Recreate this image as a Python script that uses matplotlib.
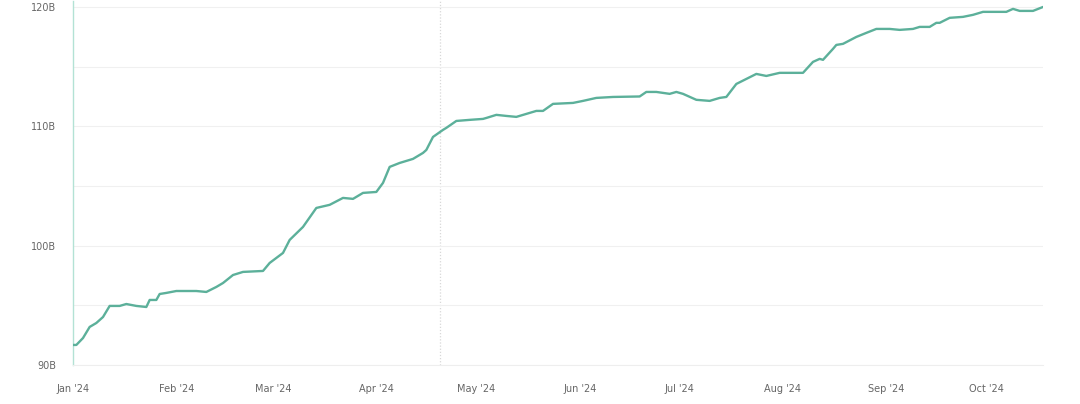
import pandas as pd
import matplotlib
matplotlib.use("Agg")
import matplotlib.pyplot as plt
import matplotlib.dates as mdates
from matplotlib.ticker import FixedLocator

# days since 2024-01-01 and value in billions
days = [0, 1, 3, 5, 7, 9, 11, 14, 16, 19, 22, 23, 25, 26, 28, 31, 37, 40, 43, 45,
        48, 51, 57, 59, 63, 65, 69, 73, 77, 81, 84, 87, 91, 93, 95, 98, 102, 105,
        106, 108, 111, 112, 115, 119, 123, 124, 127, 130, 133, 136, 139, 141, 144,
        150, 153, 157, 162, 170, 172, 175, 179, 181, 183, 187, 191, 194, 196, 199,
        202, 205, 208, 212, 219, 222, 224, 225, 228, 229, 231, 235, 238, 241, 245,
        248, 252, 254, 257, 259, 260, 263, 267, 270, 273, 278, 280, 282, 284, 288, 291]
values = [91.68, 91.68, 92.26, 93.19, 93.52, 94.02, 94.95, 94.95, 95.11, 94.95,
          94.86, 95.45, 95.45, 95.95, 96.04, 96.20, 96.20, 96.12, 96.54, 96.87,
          97.54, 97.80, 97.88, 98.55, 99.39, 100.48, 101.57, 103.16, 103.42, 104.00,
          103.92, 104.42, 104.50, 105.26, 106.60, 106.93, 107.27, 107.77, 108.02,
          109.11, 109.70, 109.87, 110.45, 110.54, 110.62, 110.70, 110.96, 110.87,
          110.79, 111.04, 111.29, 111.29, 111.88, 111.96, 112.13, 112.38, 112.46,
          112.50, 112.88, 112.88, 112.72, 112.88, 112.72, 112.22, 112.13, 112.38,
          112.46, 113.55, 113.97, 114.39, 114.22, 114.48, 114.48, 115.40, 115.65,
          115.57, 116.49, 116.82, 116.91, 117.49, 117.83, 118.16, 118.16, 118.08,
          118.16, 118.33, 118.33, 118.67, 118.67, 119.09, 119.17, 119.34, 119.59,
          119.59, 119.59, 119.84, 119.67, 119.67, 120.00]

halving_date = "2024-04-20"
month_ticks = ["2024-01-01", "2024-02-01", "2024-03-01", "2024-04-01", "2024-05-01",
               "2024-06-01", "2024-07-01", "2024-08-01", "2024-09-01", "2024-10-01"]
y_labels = [90, 100, 110, 120]
y_grid = [95, 105, 115]

dates = pd.Timestamp("2024-01-01") + pd.to_timedelta(days, unit="D")

fig = plt.figure(figsize=(10.8, 4.04), dpi=100)
ax = fig.add_axes([73 / 1080, 1 - 365 / 404, (1043 - 73) / 1080, 364 / 404])

ax.plot(dates, values, color="#5cb09a", linewidth=1.7, solid_capstyle="round",
        solid_joinstyle="round", zorder=3)

ax.set_xlim(dates[0], dates[-1])
ax.set_ylim(90, 120.5)

ax.set_yticks(y_labels)
ax.set_yticklabels([f"{v}B" for v in y_labels])
ax.yaxis.set_minor_locator(FixedLocator(y_grid))
ax.grid(axis="y", which="both", color="#f0f0f0", linewidth=0.8, zorder=0)

ticks = pd.to_datetime(month_ticks)
ax.set_xticks(ticks)
ax.xaxis.set_major_formatter(mdates.DateFormatter("%b '%y"))

ax.axvline(pd.Timestamp(halving_date), color="#d8d8d8", linestyle=(0, (1, 1.5)),
           linewidth=0.9, zorder=1)

ax.tick_params(axis="both", which="both", length=0, labelsize=7, labelcolor="#666666")
ax.tick_params(axis="y", pad=12)
ax.tick_params(axis="x", pad=14)

for side in ["top", "right"]:
    ax.spines[side].set_visible(False)
ax.spines["left"].set_color("#b3e2d5")
ax.spines["left"].set_linewidth(1.0)
ax.spines["bottom"].set_color("#eeeeee")
ax.spines["bottom"].set_linewidth(0.8)

fig.savefig("out.png", dpi=100, facecolor="white")
